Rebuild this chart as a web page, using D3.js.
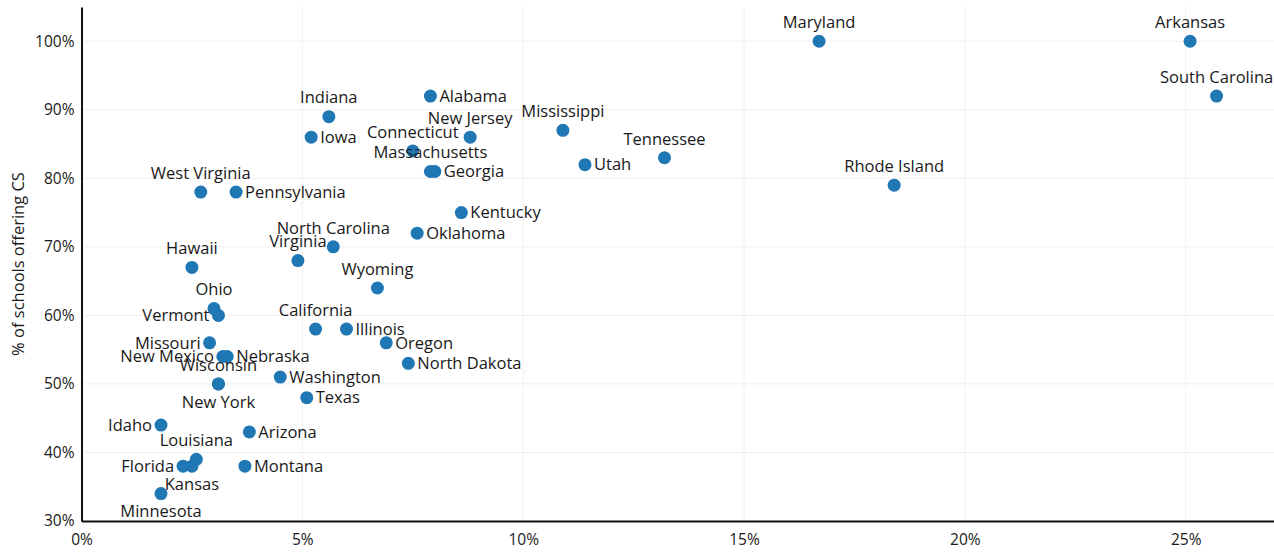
<!DOCTYPE html>
<html>
<head>
<meta charset="utf-8">
<script src="https://cdn.jsdelivr.net/npm/d3@7"></script>
<style>
  html, body { margin: 0; padding: 0; background: #fff; }
  svg { display: block; font-family: "Open Sans", Lato, sans-serif; }
</style>
</head>
<body>
<svg id="chart" width="1274" height="552"></svg>
<script>
// ---- data ----
const states = ["Maryland","Arkansas","South Carolina","Rhode Island","Tennessee","Mississippi","Utah","Alabama","New Jersey","Connecticut","Massachusetts","Georgia","Indiana","Iowa","West Virginia","Pennsylvania","Kentucky","Oklahoma","North Carolina","Virginia","Hawaii","Wyoming","Ohio","Vermont","California","Illinois","Oregon","North Dakota","Missouri","New Mexico","Nebraska","Washington","Wisconsin","New York","Texas","Idaho","Arizona","Louisiana","Florida","Kansas","Montana","Minnesota"];
// x: share (%) ; y: % of schools offering CS
const xValues = [16.7,25.1,25.7,18.4,13.2,10.9,11.4,7.9,8.8,7.5,7.9,8.0,5.6,5.2,2.7,3.5,8.6,7.6,5.7,4.9,2.5,6.7,3.0,3.1,5.3,6.0,6.9,7.4,2.9,3.2,3.3,4.5,3.1,3.1,5.1,1.8,3.8,2.6,2.3,2.5,3.7,1.8];
const yValues = [100,100,92,79,83,87,82,92,86,84,81,81,89,86,78,78,75,72,70,68,67,64,61,60,58,58,56,53,56,54,54,51,50,50,48,44,43,39,38,38,38,34];
const labelSide = ["top","top","top","top","top","top","right","right","top","top","top","right","top","right","top","right","right","right","top","top","top","top","top","left","top","right","right","right","left","left","right","right","top","bottom","right","left","right","top","left","bottom","right","bottom"];
const xTicks = [0,5,10,15,20,25];
const yTicks = [30,40,50,60,70,80,90,100];
const yTitle = "% of schools offering CS";

// ---- layout ----
const W = 1274, H = 552;
const margin = {top: 7, right: 0, bottom: 31, left: 81.5};
const FONT = "\"Open Sans\", Lato, sans-serif";
const svg = d3.select("#chart");

const x = d3.scaleLinear().domain([0, 27]).range([margin.left, W - margin.right]);
const y = d3.scaleLinear().domain([30, 105]).range([H - margin.bottom, margin.top]);

// gridlines
svg.append("g").selectAll("line").data(yTicks).join("line")
  .attr("x1", margin.left).attr("x2", W)
  .attr("y1", d => y(d)).attr("y2", d => y(d))
  .attr("stroke", "#f0f0f0").attr("stroke-width", 1);
svg.append("g").selectAll("line").data(xTicks).join("line")
  .attr("y1", margin.top).attr("y2", H - margin.bottom)
  .attr("x1", d => x(d)).attr("x2", d => x(d))
  .attr("stroke", "#f0f0f0").attr("stroke-width", 1);

// axes
const xAxis = d3.axisBottom(x).tickValues(xTicks).tickFormat(d => d + "%").tickSize(0).tickPadding(13);
const yAxis = d3.axisLeft(y).tickValues(yTicks).tickFormat(d => d + "%").tickSize(0).tickPadding(7);

const gx = svg.append("g").attr("transform", `translate(0,${H - margin.bottom})`).call(xAxis);
const gy = svg.append("g").attr("transform", `translate(${margin.left},0)`).call(yAxis);
[gx, gy].forEach(g => {
  g.select(".domain").attr("stroke", "#111").attr("stroke-width", 2);
  g.selectAll("text").attr("fill", "#1a1a1a").style("font-size", "15.5px").style("font-family", FONT);
});

svg.append("text")
  .attr("transform", `translate(24,${(margin.top + H - margin.bottom) / 2}) rotate(-90)`)
  .attr("text-anchor", "middle")
  .attr("fill", "#1a1a1a")
  .style("font-size", "16.5px")
  .text(yTitle);

const data = states.map((s, i) => ({name: s, x: xValues[i], y: yValues[i], side: labelSide[i]}));

// dots
svg.append("g").selectAll("circle").data(data).join("circle")
  .attr("cx", d => x(d.x)).attr("cy", d => y(d.y)).attr("r", 6.5)
  .attr("fill", "#1f77b4");

// labels
svg.append("g").selectAll("text").data(data).join("text")
  .attr("x", d => x(d.x) + (d.side === "right" ? 9 : d.side === "left" ? -9 : 0))
  .attr("y", d => y(d.y) + (d.side === "top" ? -19 : d.side === "bottom" ? 18 : 0))
  .attr("dy", "0.35em")
  .attr("text-anchor", d => d.side === "right" ? "start" : d.side === "left" ? "end" : "middle")
  .attr("fill", "#1a1a1a")
  .style("font-size", "16.5px")
  .text(d => d.name);
</script>
</body>
</html>
